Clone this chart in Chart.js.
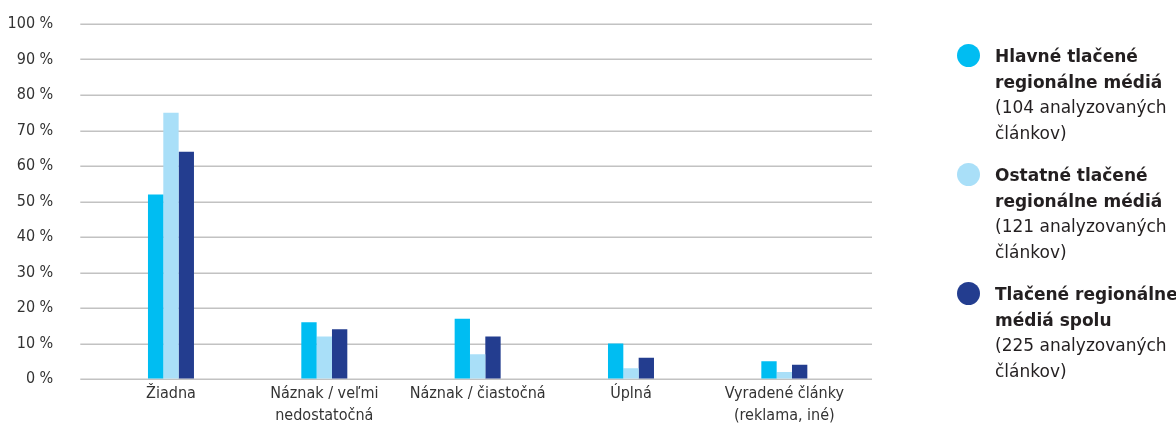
<!DOCTYPE html>
<html>
<head>
<meta charset="utf-8">
<script src="https://cdn.jsdelivr.net/npm/chart.js@4.4.0/dist/chart.umd.min.js"></script>
<style>
  html, body { margin: 0; padding: 0; background: #ffffff; overflow: hidden; }
  #wrap { position: relative; width: 1176px; height: 427px; }
  #legend { position: absolute; left: 957px; top: 44px; width: 219px; overflow: hidden;
            font-family: 'DejaVu Sans', sans-serif; font-size: 17px; line-height: 25.5px; color: #231f20; }
  .item { display: flex; align-items: flex-start; margin-bottom: 17px; white-space: nowrap; }
  .dot { width: 23px; height: 23px; border-radius: 50%; flex: 0 0 23px; margin-right: 15px; margin-top: 0px; }
  .name { font-weight: bold; }
</style>
</head>
<body>
<div id="wrap">
  <canvas id="c"></canvas>
  <div id="legend"></div>
</div>
<script>
// ---- data ----
const categories = ['Žiadna', ['Náznak / veľmi', 'nedostatočná'], 'Náznak / čiastočná', 'Úplná', ['Vyradené články', '(reklama, iné)']];
const hlavne  = [52, 16, 17, 10, 5];
const ostatne = [75, 12, 7, 3, 2];
const spolu   = [64, 14, 12, 6, 4];
const seriesNames = [
  ['Hlavné tlačené', 'regionálne médiá'],
  ['Ostatné tlačené', 'regionálne médiá'],
  ['Tlačené regionálne', 'médiá spolu']
];
const seriesNotes = [
  ['(104 analyzovaných', 'článkov)'],
  ['(121 analyzovaných', 'článkov)'],
  ['(225 analyzovaných', 'článkov)']
];
const yTickValues = [0, 10, 20, 30, 40, 50, 60, 70, 80, 90, 100];
const yTickSuffix = ' %';

// ---- styles ----
const colors = ['#00bdf2', '#a9dff8', '#233d8f'];
const axisFont = { family: "'Liberation Sans Narrow', 'DejaVu Sans Condensed', sans-serif", size: 16, lineHeight: 1.42 };

const gridExt = {
  id: 'gridExt',
  beforeDatasetsDraw(chart) {
    const y = chart.scales.y, ctx = chart.ctx, a = chart.chartArea;
    ctx.save();
    ctx.strokeStyle = '#c2c2c2';
    ctx.lineWidth = 1.5;
    y.ticks.forEach(t => {
      const py = Math.round(y.getPixelForValue(t.value)) + 0.25;
      ctx.beginPath();
      ctx.moveTo(a.left - 14, py);
      ctx.lineTo(a.right + 11, py);
      ctx.stroke();
    });
    ctx.restore();
  }
};

const seriesData = [hlavne, ostatne, spolu];
new Chart(document.getElementById('c'), {
  type: 'bar',
  data: {
    labels: categories,
    datasets: seriesData.map((d, i) => ({
      label: seriesNames[i].join(' '),
      data: d,
      backgroundColor: colors[i],
      borderWidth: 0,
      categoryPercentage: 0.3,
      barPercentage: 1.0
    }))
  },
  options: {
    responsive: true,
    maintainAspectRatio: false,
    animation: false,
    layout: { padding: { top: 24, right: 315, left: 0, bottom: 0 } },
    plugins: { legend: { display: false }, tooltip: { enabled: false } },
    scales: {
      x: {
        grid: { display: false, drawTicks: false },
        border: { display: false },
        ticks: { color: '#333333', font: axisFont, padding: 3, maxRotation: 0, autoSkip: false },
        afterFit(s) { s.height = 48; }
      },
      y: {
        min: 0, max: 100,
        afterBuildTicks(s) { s.ticks = yTickValues.map(v => ({ value: v })); },
        ticks: { color: '#333333', font: axisFont, padding: 0, callback: v => v + yTickSuffix },
        grid: { display: true, drawOnChartArea: false, drawTicks: true, tickLength: 41, color: 'rgba(0,0,0,0)' },
        border: { display: false },
        afterFit(s) { s.width = 94.3; }
      }
    }
  },
  plugins: [gridExt]
});

// ---- HTML legend ----
const lg = document.getElementById('legend');
seriesNames.forEach((n, i) => {
  const item = document.createElement('div');
  item.className = 'item';
  const dot = document.createElement('div');
  dot.className = 'dot';
  dot.style.background = colors[i];
  const txt = document.createElement('div');
  n.forEach(line => { const d = document.createElement('div'); d.className = 'name'; d.textContent = line; txt.appendChild(d); });
  seriesNotes[i].forEach(line => { const d = document.createElement('div'); d.textContent = line; txt.appendChild(d); });
  item.appendChild(dot);
  item.appendChild(txt);
  lg.appendChild(item);
});
</script>
</body>
</html>
